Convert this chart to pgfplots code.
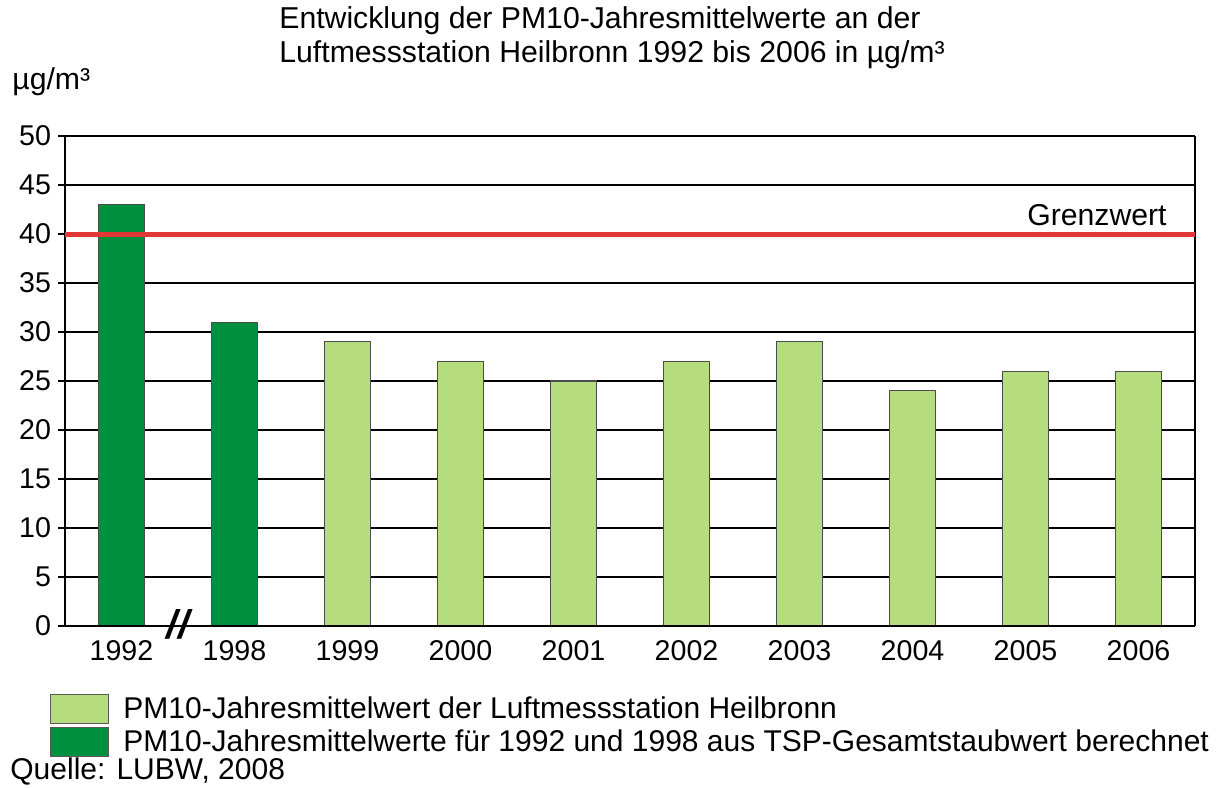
\documentclass[border=0pt]{standalone}
\usepackage{fontspec}
\setmainfont{Liberation Sans}
\usepackage{pgfplots}
\pgfplotsset{compat=1.18}
\definecolor{darkg}{RGB}{0,145,64}
\definecolor{lightg}{RGB}{181,221,125}
\definecolor{grenz}{RGB}{224,56,52}
\newcommand\fs{\fontsize{14.3}{17}\selectfont}
\newcommand\fst{\fontsize{15.1}{18}\selectfont}
\newcommand\fsl{\fontsize{15}{18}\selectfont}
\begin{document}
\begin{tikzpicture}[x=1pt,y=1pt]
\path (-32.5,-80.5) rectangle (580.5,313);
\begin{axis}[
  at={(0,0)}, anchor=south west,
  scale only axis, width=565pt, height=245pt,
  xmin=-0.5, xmax=9.5, ymin=0, ymax=50,
  clip=false,
  xtick={0,...,9},
  xticklabels={1992,1998,1999,2000,2001,2002,2003,2004,2005,2006},
  xtick style={draw=none},
  ytick={0,5,...,50},
  ytick pos=left, tick align=outside, major tick length=3.5pt,
  ytick style={black, line width=0.75pt},
  ymajorgrids, grid style={black, line width=0.75pt},
  separate axis lines,
  x axis line style={draw=none},
  y axis line style={black, line width=1pt},
  tick label style={font=\fs},
  /pgf/number format/assume math mode=true,
  ybar, bar width=23pt, bar shift=0pt,
  legend style={draw=none, fill=none, at={(0,0)}, anchor=north west,
    inner xsep=0pt, inner ysep=0pt,
    xshift=-7.5pt, yshift=-33.65pt, font=\fsl, row sep=1pt,
    nodes={inner sep=0pt, text height=10.5pt, text depth=3.5pt}},
  legend cell align=left,
  legend image code/.code={\draw[#1, draw=black!65, line width=0.5pt] (0pt,-6pt) rectangle (29pt,8.5pt);},
]
\addplot[fill=lightg, draw=black!70, line width=0.6pt] coordinates {(2,29) (3,27) (4,25) (5,27) (6,29) (7,24) (8,26) (9,26)};
\addlegendentry{\hspace{7pt}PM10-Jahresmittelwert der Luftmessstation Heilbronn}
\addplot[fill=darkg, draw=black!70, line width=0.6pt] coordinates {(0,43) (1,31)};
\addlegendentry{\hspace{7pt}PM10-Jahresmittelwerte für 1992 und 1998 aus TSP-Gesamtstaubwert berechnet}
\addplot[sharp plot, grenz, line width=2.5pt, no markers, forget plot] coordinates {(-0.5,40) (9.5,40)};
\draw[black, line width=1.3pt] (axis cs:-0.544,0) -- (axis cs:0.288,0);
\draw[black, line width=1.3pt] (axis cs:0.704,0) -- (axis cs:9.5,0);
\node[font=\fontsize{20}{20}\selectfont\bfseries\itshape, inner sep=0pt] at (axis cs:0.5,0) [yshift=1pt] {//};
\node[font=\fst, anchor=base east, inner sep=0pt] at (axis cs:9.5,40) [xshift=-14pt, yshift=4.5pt] {Grenzwert};
\end{axis}
\node[font=\fst, anchor=base west, inner sep=0pt] at (107,298.8) {Entwicklung der PM10-Jahresmittelwerte an der};
\node[font=\fst, anchor=base west, inner sep=0pt] at (107,281.7) {Luftmessstation Heilbronn 1992 bis 2006 in µg/m³};
\node[font=\fst, anchor=base west, inner sep=0pt] at (-26.5,268) {µg/m³};
\node[font=\fsl, anchor=base west, inner sep=0pt] at (-27.5,-76.65) {Quelle: LUBW, 2008};
\end{tikzpicture}
\end{document}
